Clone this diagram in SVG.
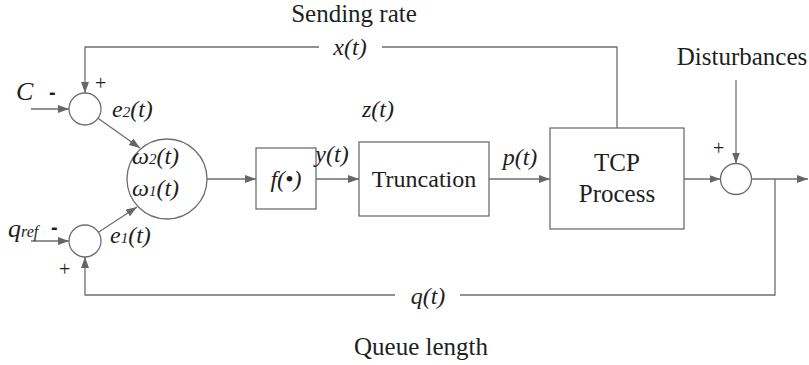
<svg xmlns="http://www.w3.org/2000/svg" width="809" height="365" viewBox="0 0 809 365">
<style>
.ln{fill:none;stroke:#6e6e6e;stroke-width:1.3}
.nd{fill:#fff;stroke:#6e6e6e;stroke-width:1.3}
.t{font-family:"Liberation Serif","Times New Roman",serif;font-size:24px;fill:#1e1e1e}
.b{font-size:25px}
.p{font-size:20px}
.i{font-style:italic}
.c{text-anchor:middle}
.s{font-size:15px}
.m{font-family:"Liberation Sans",Arial,sans-serif;font-weight:bold;font-size:20px;fill:#1e1e1e}
</style>
<defs>
<marker id="ah" markerUnits="userSpaceOnUse" markerWidth="12" markerHeight="10" refX="11" refY="4" orient="auto">
<path d="M0,0 L11,4 L0,8 z" fill="#666"/>
</marker>
</defs>
<rect width="809" height="365" fill="#fff"/>

<g id="connectors">
<path class="ln" d="M617,128 V47 H382"/>
<path class="ln" d="M319,47 H85 V93" marker-end="url(#ah)"/>
<path class="ln" d="M31,109 H69" marker-end="url(#ah)"/>
<path class="ln" d="M31,241 H69" marker-end="url(#ah)"/>
<path class="ln" d="M98,118.3 L140,148" marker-end="url(#ah)"/>
<path class="ln" d="M98.4,232.2 L137,207" marker-end="url(#ah)"/>
<path class="ln" d="M207,179 H256" marker-end="url(#ah)"/>
<path class="ln" d="M316,179 H359" marker-end="url(#ah)"/>
<path class="ln" d="M489,179 H550" marker-end="url(#ah)"/>
<path class="ln" d="M684,179 H720.5" marker-end="url(#ah)"/>
<path class="ln" d="M736,80 V163.5" marker-end="url(#ah)"/>
<path class="ln" d="M751.5,179 H808" marker-end="url(#ah)"/>
<path class="ln" d="M775,179 V295 H460"/>
<path class="ln" d="M395,295 H85 V257" marker-end="url(#ah)"/>
</g>

<g id="sum1"><circle class="nd" cx="85" cy="109" r="16"/></g>
<g id="sum2"><circle class="nd" cx="85" cy="241" r="16"/></g>
<g id="weights">
<circle class="nd" cx="167" cy="179" r="40"/>
<text class="t i" x="132" y="164">ω<tspan class="s">2</tspan>(t)</text>
<text class="t i" x="132" y="196">ω<tspan class="s">1</tspan>(t)</text>
</g>
<g id="f">
<rect class="nd" x="256" y="148" width="60" height="61"/>
<text class="t i c" x="286" y="187">f(<tspan font-style="normal">•</tspan>)</text>
</g>
<g id="truncation">
<rect class="nd" x="359" y="142" width="130" height="74"/>
<text class="t c" x="424" y="187">Truncation</text>
</g>
<g id="tcp">
<rect class="nd" x="550" y="128" width="134" height="101"/>
<text class="t b c" x="617" y="171">TCP</text>
<text class="t b c" x="617" y="202">Process</text>
</g>
<g id="sum3"><circle class="nd" cx="736" cy="179" r="15.5"/></g>

<g id="labels">
<text class="t b c" x="354" y="22">Sending rate</text>
<text class="t i c" x="350" y="55">x(t)</text>
<text class="t i c" x="378" y="117">z(t)</text>
<text class="t i c" x="332" y="162">y(t)</text>
<text class="t i c" x="520" y="165">p(t)</text>
<text class="t i c" x="428" y="304">q(t)</text>
<text class="t b c" x="421" y="355">Queue length</text>
<text class="t b c" x="742" y="65">Disturbances</text>
<text class="t i" x="16" y="100" style="font-size:26px">C</text>
<text class="m" x="49" y="99">-</text>
<text class="t p" x="95" y="90">+</text>
<text class="t i" x="112" y="117">e<tspan class="s">2</tspan>(t)</text>
<text class="t i" x="8" y="237" style="font-size:26px">q<tspan style="font-size:16px">ref</tspan></text>
<text class="m" x="51" y="234">-</text>
<text class="t p" x="59" y="276">+</text>
<text class="t i" x="110" y="243">e<tspan class="s">1</tspan>(t)</text>
<text class="t p" x="713" y="155">+</text>
</g>
</svg>
